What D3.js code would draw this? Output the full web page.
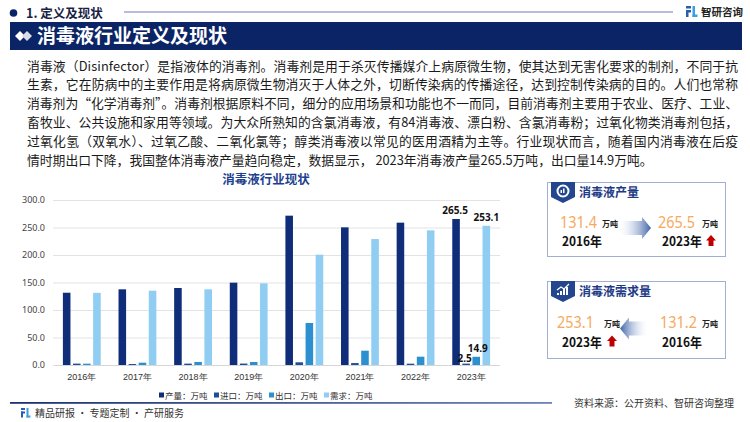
<!DOCTYPE html>
<html><head><meta charset="utf-8">
<script src="https://cdn.jsdelivr.net/npm/d3@7"></script>
<style>
html,body{margin:0;padding:0;background:#fff;}
svg{display:block;font-family:"Noto Sans CJK SC","Noto Sans",sans-serif;}
</style></head>
<body>
<svg id="c" width="750" height="422"></svg>
<script>
const years = ['2016年','2017年','2018年','2019年','2020年','2021年','2022年','2023年'];
const production = [131.4, 137.6, 140.0, 149.7, 271.5, 250.3, 258.8, 265.5];
const imports    = [2.5, 1.8, 2.5, 2.6, 4.9, 3.5, 2.4, 2.5];
const exports    = [2.4, 4.2, 5.5, 5.5, 76.4, 26.0, 15.1, 14.9];
const demand     = [131.2, 135.1, 137.6, 148.5, 200.6, 229.0, 244.8, 253.1];
const seriesNames = ['产量：万吨','进口：万吨','出口：万吨','需求：万吨'];
const yTicks = [0, 50, 100, 150, 200, 250, 300];
const paragraph = [
 '消毒液（Disinfector）是指液体的消毒剂。消毒剂是用于杀灭传播媒介上病原微生物，使其达到无害化要求的制剂，不同于抗',
 '生素，它在防病中的主要作用是将病原微生物消灭于人体之外，切断传染病的传播途径，达到控制传染病的目的。人们也常称',
 '消毒剂为“化学消毒剂”。消毒剂根据原料不同，细分的应用场景和功能也不一而同，目前消毒剂主要用于农业、医疗、工业、',
 '畜牧业、公共设施和家用等领域。为大众所熟知的含氯消毒液，有84消毒液、漂白粉、含氯消毒粉；过氧化物类消毒剂包括，',
 '过氧化氢（双氧水）、过氧乙酸、二氧化氯等；醇类消毒液以常见的医用酒精为主等。行业现状而言，随着国内消毒液在后疫',
 '情时期出口下降，我国整体消毒液产量趋向稳定，数据显示， 2023年消毒液产量265.5万吨，出口量14.9万吨。'
];
const panel1 = {title:'消毒液产量', left:{v:'131.4', y:'2016年'}, right:{v:'265.5', y:'2023年'}};
const panel2 = {title:'消毒液需求量', left:{v:'253.1', y:'2023年'}, right:{v:'131.2', y:'2016年'}};

const colors = ['#0f2d78','#1f4c9c','#2c8fd0','#8fcdf2'];
const navy = '#0b2466';
const svg = d3.select('#c');
const defs = svg.append('defs');

// ---------- header ----------
svg.append('circle').attr('cx',13.5).attr('cy',13).attr('r',3.8).attr('fill',navy);
svg.append('text').attr('x',26).attr('y',17.5).attr('font-size',12.5).attr('font-weight','bold')
  .attr('fill','#1a1f45').text('1. 定义及现状');
svg.append('line').attr('x1',124).attr('x2',673).attr('y1',12).attr('y2',12)
  .attr('stroke','#6b7db3').attr('stroke-width',1);
// logo
const lg = svg.append('g').attr('transform','translate(686,6)');
lg.append('rect').attr('x',0).attr('y',0).attr('width',5).attr('height',2.5).attr('fill','#2a5db0');
lg.append('rect').attr('x',0).attr('y',4).attr('width',5).attr('height',2.5).attr('fill','#2a5db0');
lg.append('rect').attr('x',0).attr('y',4).attr('width',2.5).attr('height',7).attr('fill','#2a5db0');
lg.append('rect').attr('x',6.5).attr('y',0).attr('width',2.5).attr('height',11).attr('fill','#3aa0e0');
lg.append('rect').attr('x',6.5).attr('y',8.5).attr('width',5).attr('height',2.5).attr('fill','#3aa0e0');
svg.append('text').attr('x',701).attr('y',16).attr('font-size',10.5).attr('font-weight','bold')
  .attr('fill','#222').text('智研咨询');

// banner
svg.append('rect').attr('x',10).attr('y',22).attr('width',732).attr('height',28).attr('fill',navy);
svg.append('path').attr('d','M15,36 L20,31 L25,36 L20,41 Z').attr('fill','#fff');
svg.append('path').attr('d','M22,36 L27,31 L32,36 L27,41 Z').attr('fill','#d9dde8');
svg.append('text').attr('x',37).attr('y',43).attr('font-size',19).attr('font-weight','bold')
  .attr('fill','#fff').text('消毒液行业定义及现状');

// paragraph
paragraph.forEach((t,i)=>{
  const tx = svg.append('text').attr('x',27).attr('y',70.5 + i*18.8).attr('font-size',12.8)
    .attr('fill','#1a1a1a').text(t);
  if(i<5) tx.attr('textLength',711).attr('lengthAdjust','spacing');
});

// ---------- chart ----------
svg.append('text').attr('x',266).attr('y',184).attr('text-anchor','middle').attr('font-size',12.5)
  .attr('font-weight','bold').attr('fill','#1d3f8f').text('消毒液行业现状');

const y = d3.scaleLinear().domain([0,300]).range([365,200]);
const x0 = d3.scaleBand().domain(years).range([54,499]).paddingInner(0.32).paddingOuter(0.16);
const x1 = d3.scaleBand().domain(d3.range(4)).range([0,x0.bandwidth()]).paddingInner(0.25);

const gy = svg.append('g').attr('transform','translate(53,0)')
  .call(d3.axisLeft(y).tickValues(yTicks).tickFormat(d3.format('.1f')).tickSize(-447).tickPadding(8));
gy.select('.domain').remove();
gy.selectAll('.tick line').attr('stroke','#e3e3e3');
gy.selectAll('.tick text').attr('font-size',9).attr('fill','#444').attr('font-family','"Noto Sans","Noto Sans CJK SC",sans-serif');

const gx = svg.append('g').attr('transform','translate(0,365)')
  .call(d3.axisBottom(x0).tickSize(0).tickPadding(9));
gx.select('.domain').attr('stroke','#d6d6d6');
gx.selectAll('.tick text').attr('font-size',9).attr('fill','#333');

const all = [production, imports, exports, demand];
const rows = years.map((yr,i)=>({yr, vals: all.map(s=>s[i])}));
const grp = svg.append('g').selectAll('g').data(rows).join('g')
  .attr('transform',d=>`translate(${x0(d.yr)},0)`);
grp.selectAll('rect').data(d=>d.vals.map((v,k)=>({v,k}))).join('rect')
  .attr('x',d=>x1(d.k)).attr('width',x1.bandwidth())
  .attr('y',d=>y(d.v)).attr('height',d=>y(0)-y(d.v))
  .attr('fill',d=>colors[d.k]);
// labels on last year
const last = rows[rows.length-1];
const dx = [-1, -1.5, 1.5, 0];
svg.append('g').attr('transform',`translate(${x0(last.yr)},0)`)
  .selectAll('text').data(last.vals.map((v,k)=>({v,k}))).join('text')
  .attr('x',d=>x1(d.k)+x1.bandwidth()/2 + dx[d.k])
  .attr('y',d=>d.k===1? y(d.v)-1.5 : y(d.v)-5)
  .attr('text-anchor','middle').attr('font-size',10).attr('font-weight','bold').attr('fill','#111')
  .attr('font-family','"Noto Sans",sans-serif')
  .text(d=>d3.format('.1f')(d.v));

// legend
const leg = svg.append('g').selectAll('g').data(seriesNames).join('g')
  .attr('transform',(d,i)=>`translate(${159 + i*55},391)`);
leg.append('rect').attr('x',0).attr('y',1.5).attr('width',5).attr('height',5).attr('fill',(d,i)=>colors[i]);
leg.append('text').attr('x',6).attr('y',8).attr('font-size',8.5).attr('fill','#333').text(d=>d);

// ---------- footer ----------
const fg = defs.append('linearGradient').attr('id','fline');
fg.append('stop').attr('offset','0').attr('stop-color','#1c3373');
fg.append('stop').attr('offset','1').attr('stop-color','#6d82b8');
svg.append('rect').attr('x',10).attr('y',402).attr('width',542).attr('height',1.8).attr('fill','url(#fline)');
const fl = svg.append('g').attr('transform','translate(21,408)');
fl.append('rect').attr('x',0).attr('y',0).attr('width',4).attr('height',2).attr('fill','#2a5db0');
fl.append('rect').attr('x',0).attr('y',3.5).attr('width',4).attr('height',2).attr('fill','#2a5db0');
fl.append('rect').attr('x',0).attr('y',3.5).attr('width',2).attr('height',6).attr('fill','#2a5db0');
fl.append('rect').attr('x',5.5).attr('y',0).attr('width',2).attr('height',9.5).attr('fill','#3aa0e0');
fl.append('rect').attr('x',5.5).attr('y',7.5).attr('width',4).attr('height',2).attr('fill','#3aa0e0');
svg.append('text').attr('x',35).attr('y',417).attr('font-size',10).attr('fill','#333')
  .text('精品研报 · 专题定制 · 产研服务');
svg.append('text').attr('x',574).attr('y',407).attr('font-size',10).attr('fill','#333')
  .text('资料来源：公开资料、智研咨询整理');

// ---------- right panels ----------
const ag = defs.append('linearGradient').attr('id','arR');
ag.append('stop').attr('offset','0').attr('stop-color','#ffffff').attr('stop-opacity',0.2);
ag.append('stop').attr('offset','1').attr('stop-color','#3f63a8');
const ag2 = defs.append('linearGradient').attr('id','arL').attr('x1','1').attr('x2','0');
ag2.append('stop').attr('offset','0').attr('stop-color','#ffffff').attr('stop-opacity',0.2);
ag2.append('stop').attr('offset','1').attr('stop-color','#3f63a8');

function panel(p, top, h, dir, iconType){
  const g = svg.append('g').attr('transform',`translate(547,${top})`);
  g.append('rect').attr('x',0.5).attr('y',0.5).attr('width',178).attr('height',h)
    .attr('fill','#fff').attr('stroke','#9fb0d2').attr('stroke-width',1);
  g.append('path').attr('d','M4,0 L28,0 L28,15 L16,21 L4,15 Z').attr('fill','#24468f');
  if(iconType===0){
    g.append('circle').attr('cx',16).attr('cy',9).attr('r',5.5).attr('fill','none').attr('stroke','#fff').attr('stroke-width',2);
    g.append('rect').attr('x',13.5).attr('y',8).attr('width',1.5).attr('height',3).attr('fill','#fff');
    g.append('rect').attr('x',16).attr('y',6.5).attr('width',1.5).attr('height',4.5).attr('fill','#fff');
  } else {
    [[10,9,3],[13,7,5],[16,5,7],[19,3,9]].forEach(([xx,yy,hh])=>{
      g.append('rect').attr('x',xx).attr('y',yy+3).attr('width',2).attr('height',hh-1).attr('fill','#fff');
    });
    g.append('path').attr('d','M10,9 L14,6 L17,8 L22,3').attr('fill','none').attr('stroke','#fff').attr('stroke-width',1.2);
  }
  g.append('text').attr('x',32).attr('y',14.5).attr('font-size',12).attr('font-weight','bold')
    .attr('fill','#1d3a86').text(p.title);
  const vy = h/2 + 8.5, yy = h/2 + 27;
  const lx = dir==='right'? 13 : 10;
  // left
  g.append('text').attr('x',lx).attr('y',vy).attr('font-size',16).attr('fill','#f6a95c')
    .attr('font-family','"Noto Sans",sans-serif').attr('textLength',37).attr('lengthAdjust','spacingAndGlyphs').text(p.left.v);
  g.append('text').attr('x', dir==='right'?55:57).attr('y',vy-1).attr('font-size',8).attr('font-weight','bold').attr('fill','#222').text('万吨');
  g.append('text').attr('x',15).attr('y',yy).attr('font-size',13).attr('font-weight','bold').attr('fill','#111')
    .attr('textLength',40).attr('lengthAdjust','spacingAndGlyphs').text(p.left.y);
  // right
  g.append('text').attr('x',dir==='right'?111:113).attr('y',vy).attr('font-size',16).attr('fill','#f6a95c')
    .attr('font-family','"Noto Sans",sans-serif').attr('textLength',37).attr('lengthAdjust','spacingAndGlyphs').text(p.right.v);
  g.append('text').attr('x',155).attr('y',vy-1).attr('font-size',8).attr('font-weight','bold').attr('fill','#222').text('万吨');
  g.append('text').attr('x',115).attr('y',yy).attr('font-size',13).attr('font-weight','bold').attr('fill','#111')
    .attr('textLength',40).attr('lengthAdjust','spacingAndGlyphs').text(p.right.y);
  // red arrow beside 2023
  const ax = dir==='right'? 164 : 65;
  g.append('path').attr('d',`M${ax},${yy-11} L${ax+5},${yy-5.5} L${ax+2.5},${yy-5.5} L${ax+2.5},${yy} L${ax-2.5},${yy} L${ax-2.5},${yy-5.5} L${ax-5},${yy-5.5} Z`)
    .attr('fill','#c00000');
  // gradient arrow
  const cy = h*0.5 + 9;
  if(dir==='right'){
    g.append('path').attr('d',`M73,${cy-7} L95,${cy-7} L95,${cy-11} L104,${cy} L95,${cy+11} L95,${cy+7} L73,${cy+7} Z`)
      .attr('fill','url(#arR)');
  } else {
    g.append('path').attr('d',`M100,${cy-7} L82,${cy-7} L82,${cy-11} L73,${cy} L82,${cy+11} L82,${cy+7} L100,${cy+7} Z`)
      .attr('fill','url(#arL)');
  }
}
panel(panel1, 182, 74, 'right', 0);
panel(panel2, 281, 77, 'left', 1);
</script>
</body></html>
